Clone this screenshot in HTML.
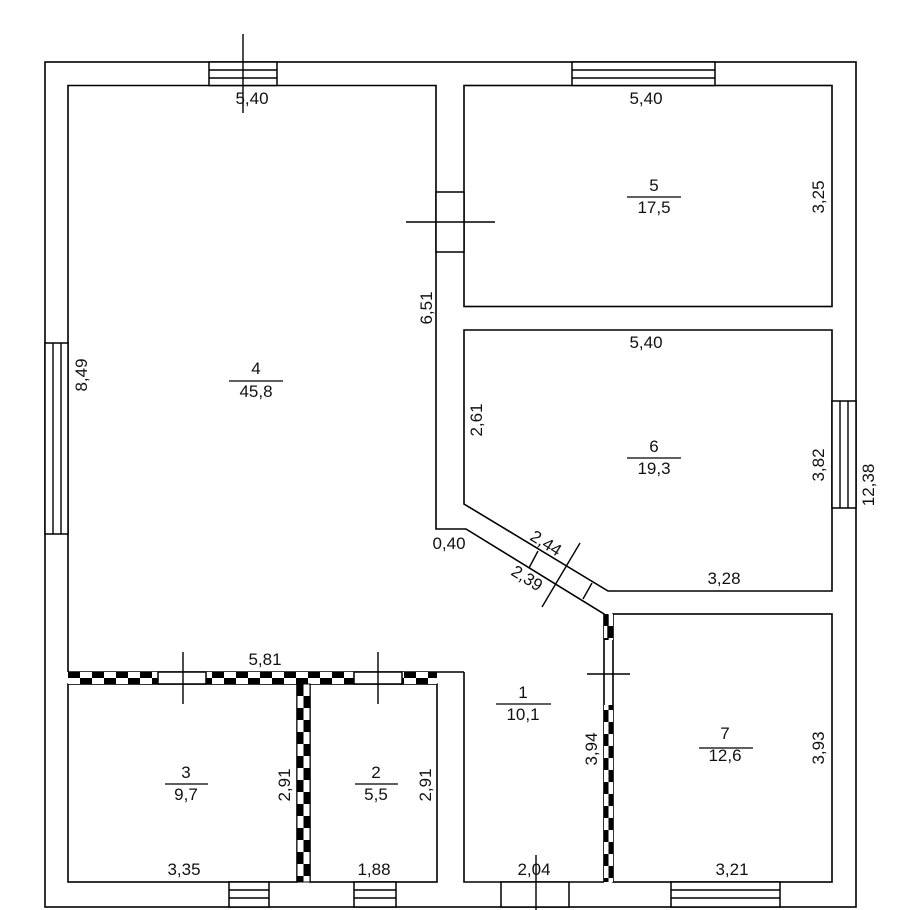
<!DOCTYPE html>
<html><head><meta charset="utf-8"><style>
html,body{margin:0;padding:0;background:#fff;}
svg{display:block;}
text{font-family:"Liberation Sans",Arial,sans-serif;font-size:17px;fill:#111;}
</style></head><body>
<svg width="897" height="910" viewBox="0 0 897 910" xmlns="http://www.w3.org/2000/svg">
<defs>
<pattern id="ch" x="68" y="672" width="24" height="12" patternUnits="userSpaceOnUse">
<rect width="24" height="12" fill="#fff"/>
<rect x="0" y="0" width="12" height="6" fill="#000"/>
<rect x="12" y="6" width="12" height="6" fill="#000"/>
</pattern>
<pattern id="cv" x="297" y="684" width="13" height="24" patternUnits="userSpaceOnUse">
<rect width="13" height="24" fill="#fff"/>
<rect x="0" y="0" width="6.5" height="12" fill="#000"/>
<rect x="6.5" y="12" width="6.5" height="12" fill="#000"/>
</pattern>
<pattern id="cv2" x="604" y="614" width="9" height="24" patternUnits="userSpaceOnUse">
<rect width="9" height="24" fill="#fff"/>
<rect x="0" y="0" width="4.5" height="12" fill="#000"/>
<rect x="4.5" y="12" width="4.5" height="12" fill="#000"/>
</pattern>
</defs>
<g fill="none" stroke="#000" stroke-width="1.6">
<rect x="45" y="62" width="811" height="845"/>
<polyline points="68,672 68,85.5 436,85.5 436,529 466,529 604,614 604,882"/>
<line x1="68" y1="672" x2="464" y2="672"/>
<rect x="464" y="85.5" width="368" height="221"/>
<polygon points="464,330 832,330 832,591 608,591 464,504"/>
<rect x="613" y="614" width="219" height="268"/>
<polyline points="464,672 464,882 604,882"/>
<rect x="68" y="684" width="229" height="198"/>
<rect x="310" y="684" width="127" height="198"/>
</g>
<rect x="68" y="672" width="90" height="12" fill="url(#ch)"/>
<rect x="206" y="672" width="148" height="12" fill="url(#ch)"/>
<rect x="402" y="672" width="35" height="12" fill="url(#ch)"/>
<rect x="297" y="684" width="13" height="198" fill="url(#cv)" stroke="#000" stroke-width="1"/>
<rect x="604" y="705" width="9" height="177" fill="url(#cv2)"/>
<rect x="604" y="614" width="9" height="26" fill="url(#cv2)"/>
<g fill="#fff" stroke="#000" stroke-width="1.5">
<rect x="209" y="62" width="68" height="23.5"/>
<rect x="572" y="62" width="143" height="23.5"/>
<rect x="45" y="343" width="23" height="191"/>
<rect x="832" y="401" width="24" height="107"/>
<rect x="229" y="882" width="40" height="25"/>
<rect x="354" y="882" width="42" height="25"/>
<rect x="671" y="882" width="109" height="25"/>
<rect x="436" y="192" width="28" height="60"/>
<rect x="501" y="882" width="68" height="25"/>
<rect x="158" y="672" width="48" height="12"/>
<rect x="354" y="672" width="48" height="12"/>
</g>
<g stroke="#000" stroke-width="1.4" fill="none">
<line x1="209" y1="70" x2="277" y2="70"/><line x1="209" y1="78" x2="277" y2="78"/>
<line x1="572" y1="70" x2="715" y2="70"/><line x1="572" y1="78" x2="715" y2="78"/>
<line x1="53" y1="343" x2="53" y2="534"/><line x1="61" y1="343" x2="61" y2="534"/>
<line x1="840" y1="401" x2="840" y2="508"/><line x1="848" y1="401" x2="848" y2="508"/>
<line x1="229" y1="890" x2="269" y2="890"/><line x1="229" y1="898" x2="269" y2="898"/>
<line x1="354" y1="890" x2="396" y2="890"/><line x1="354" y1="898" x2="396" y2="898"/>
<line x1="671" y1="890" x2="780" y2="890"/><line x1="671" y1="898" x2="780" y2="898"/>
<line x1="243" y1="34" x2="243" y2="113"/>
<line x1="406" y1="222" x2="495" y2="222"/>
<line x1="183" y1="652" x2="183" y2="704"/>
<line x1="378" y1="652" x2="378" y2="704"/>
<line x1="587" y1="674" x2="630" y2="674"/>
<line x1="536" y1="855" x2="536" y2="910"/>
<line x1="538" y1="551" x2="529" y2="568"/>
<line x1="592" y1="583" x2="583" y2="599"/>
<line x1="580" y1="543" x2="542" y2="607"/>
<line x1="608" y1="615" x2="608" y2="640"/>
</g>
<g text-anchor="middle">
<text x="252" y="104">5,40</text>
<text x="646" y="104">5,40</text>
<text x="646" y="348">5,40</text>
<text x="724" y="584">3,28</text>
<text x="265" y="665">5,81</text>
<text x="184" y="875">3,35</text>
<text x="374" y="875">1,88</text>
<text x="534" y="875">2,04</text>
<text x="732" y="875">3,21</text>
<text x="449" y="549">0,40</text>
<text x="654" y="191">5</text><text x="654" y="213">17,5</text>
<text x="654" y="452">6</text><text x="654" y="474">19,3</text>
<text x="256" y="374">4</text><text x="256" y="397">45,8</text>
<text x="523" y="698">1</text><text x="523" y="720">10,1</text>
<text x="725" y="739">7</text><text x="725" y="761">12,6</text>
<text x="186" y="778">3</text><text x="186" y="800">9,7</text>
<text x="376" y="778">2</text><text x="376" y="800">5,5</text>
<text transform="translate(543,548) rotate(32)">2,44</text>
<text transform="translate(524,583) rotate(32)">2,39</text>
<text transform="translate(87,375) rotate(-90)">8,49</text>
<text transform="translate(432,308) rotate(-90)">6,51</text>
<text transform="translate(482,420) rotate(-90)">2,61</text>
<text transform="translate(824,197) rotate(-90)">3,25</text>
<text transform="translate(824,465) rotate(-90)">3,82</text>
<text transform="translate(874,485) rotate(-90)">12,38</text>
<text transform="translate(290,785) rotate(-90)">2,91</text>
<text transform="translate(431,785) rotate(-90)">2,91</text>
<text transform="translate(597,749) rotate(-90)">3,94</text>
<text transform="translate(824,748) rotate(-90)">3,93</text>
</g>
<line x1="229" y1="381" x2="283" y2="381" stroke="#000" stroke-width="1.3"/>
<line x1="627" y1="197" x2="681" y2="197" stroke="#000" stroke-width="1.3"/>
<line x1="627" y1="458" x2="681" y2="458" stroke="#000" stroke-width="1.3"/>
<line x1="496" y1="704" x2="551" y2="704" stroke="#000" stroke-width="1.3"/>
<line x1="699" y1="748" x2="753" y2="748" stroke="#000" stroke-width="1.3"/>
<line x1="165" y1="784" x2="208" y2="784" stroke="#000" stroke-width="1.3"/>
<line x1="355" y1="784" x2="398" y2="784" stroke="#000" stroke-width="1.3"/>
</svg>
</body></html>
